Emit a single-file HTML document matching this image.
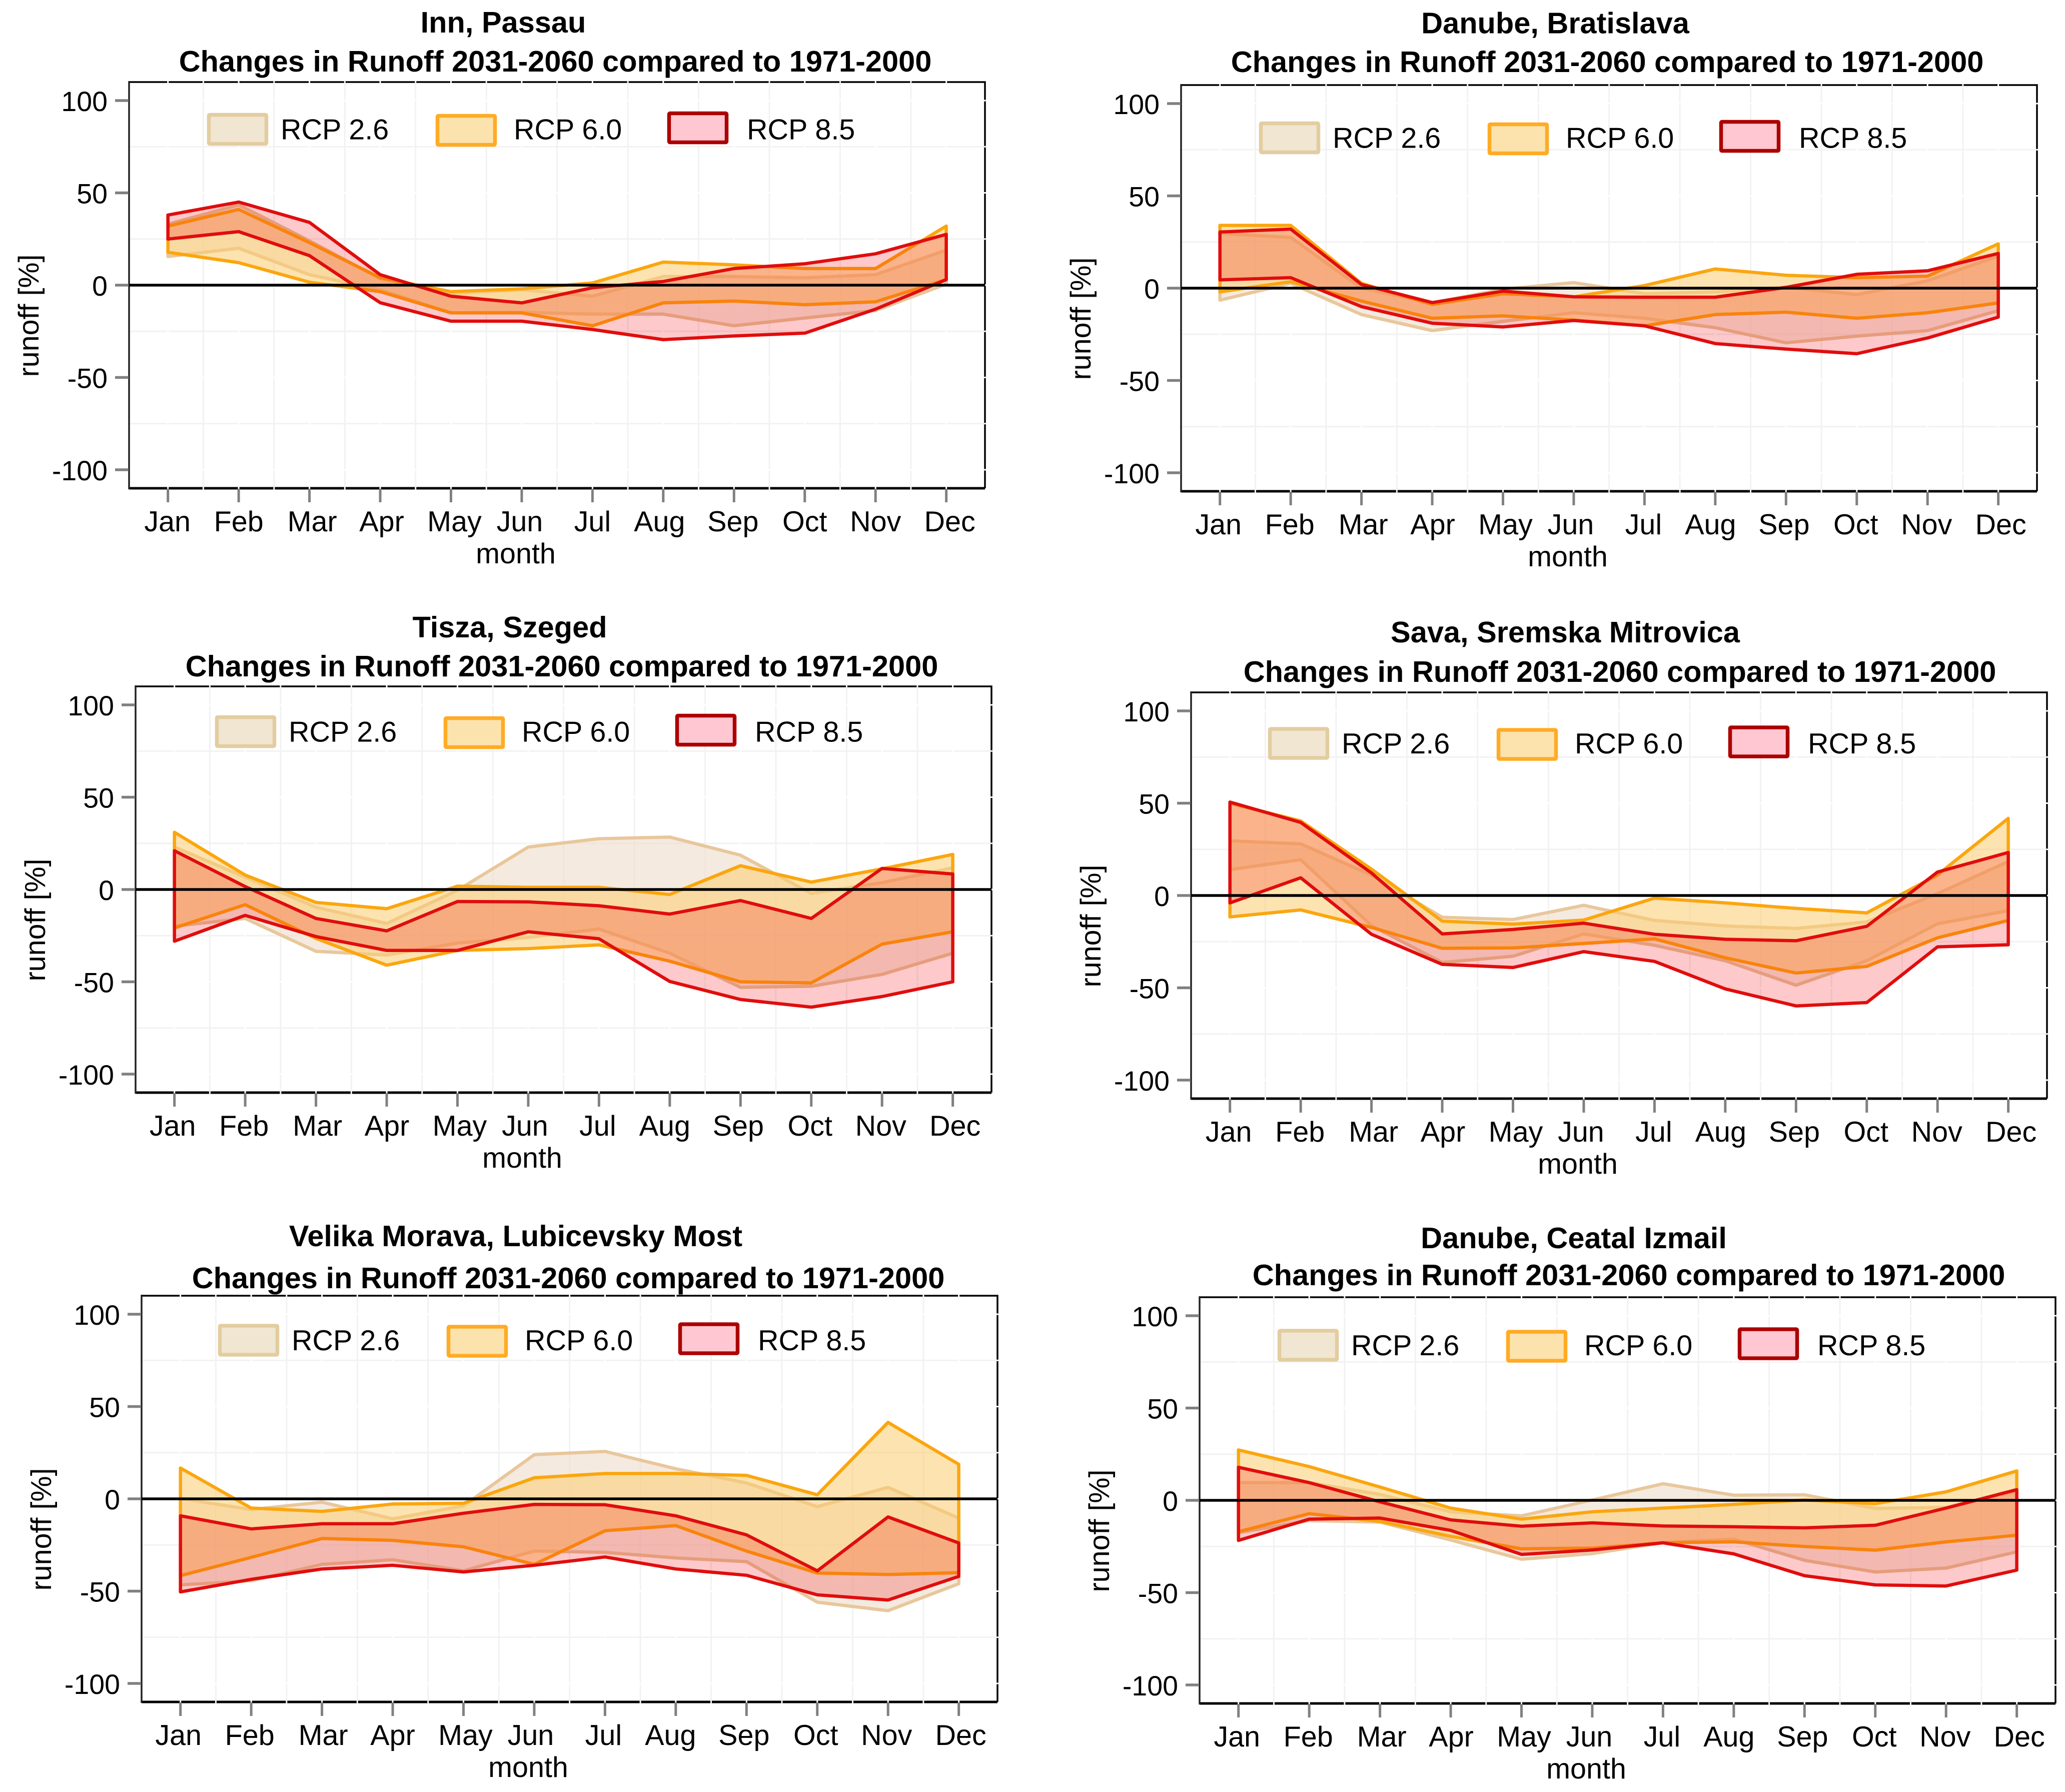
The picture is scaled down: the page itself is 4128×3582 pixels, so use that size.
<!DOCTYPE html>
<html lang="en">
<head>
<meta charset="utf-8">
<title>Changes in Runoff 2031-2060 compared to 1971-2000</title>
<style>
html,body{margin:0;padding:0;background:#fff;}
svg{display:block;font-family:"Liberation Sans",Arial,sans-serif;}
.multiply{mix-blend-mode:multiply;}
</style>
</head>
<body>
<svg id="figure" xmlns="http://www.w3.org/2000/svg" width="4128" height="3582" viewBox="0 0 4128 3582">
<rect x="0" y="0" width="4128" height="3582" fill="#ffffff"/>
</svg>
<script>
const months = ['Jan','Feb','Mar','Apr','May','Jun','Jul','Aug','Sep','Oct','Nov','Dec'];
const yTickLabels = [100, 50, 0, -50, -100];
const yMinorTicks = [75, 25, -25, -75];
const scenarioNames = ['RCP 2.6', 'RCP 6.0', 'RCP 8.5'];
const titleSecondLine = 'Changes in Runoff 2031-2060 compared to 1971-2000';

const innRcp26Upper = [33,43.5,24,3.5,-4.5,-2.5,-6,4.7,4.7,4,5.7,19];
const innRcp26Lower = [15.5,20,5.7,-2.5,-15,-14.7,-15.7,-15.7,-22,-17.8,-13.7,0.6];
const innRcp60Upper = [32,41,23,4,-3.5,-2,1.2,12.5,11,9,9,32];
const innRcp60Lower = [17.8,12.2,1.6,-3.5,-15,-15,-22,-9.6,-8.6,-10.6,-9,3];
const innRcp85Upper = [38,45,34,5.7,-6,-9.6,-1.4,2,9,11.6,17,27.5];
const innRcp85Lower = [25,29,16,-9.5,-19.5,-19.5,-24,-29.5,-27.5,-26,-13,3];

const bratislavaRcp26Upper = [29.6,27.5,0,-8,-0.6,3,-3,-2,0.6,-3.5,4,17.3];
const bratislavaRcp26Lower = [-6.5,2.6,-14.3,-23,-18,-13.3,-16.3,-21.4,-29.6,-26,-23,-12.2];
const bratislavaRcp60Upper = [34,34,2.6,-8.8,-3,-4.7,1.4,10.4,7,5.7,6.5,24];
const bratislavaRcp60Lower = [-2,3.5,-7,-16.3,-15,-17.3,-20.4,-14.3,-13,-16.3,-13.3,-8];
const bratislavaRcp85Upper = [30.4,32,2,-7.8,-1.6,-4.7,-4.9,-4.9,0.4,7.5,9.4,18.8];
const bratislavaRcp85Lower = [4.5,5.7,-10,-19,-21,-17.5,-20.4,-30,-33,-35.5,-27,-15.7];

const szegedRcp26Upper = [23,6.7,-9.6,-18.4,-0.4,23,27.5,28.4,18.6,-2.2,3.7,11.8];
const szegedRcp26Lower = [-19.8,-15.7,-33.5,-35.5,-29,-26,-21.4,-34.5,-53,-52.4,-46,-34.5];
const szegedRcp60Upper = [31,7.8,-7,-10.4,1.8,1.2,1.2,-2.7,12.9,4,11.2,19];
const szegedRcp60Lower = [-20.8,-8.2,-26.5,-41,-33,-32,-30,-38.8,-50,-50.6,-29.6,-22.9];
const szegedRcp85Upper = [21,1.6,-15.7,-22.4,-6.5,-6.7,-8.8,-13.3,-6,-15.7,11.4,8.4];
const szegedRcp85Lower = [-28,-14,-25.5,-33,-33,-22.9,-26.7,-49.8,-59.6,-63.7,-58,-50];

const savaRcp26Upper = [29.6,28,11,-11.8,-13,-5.3,-13.5,-16.5,-17.8,-14.3,1,18.4];
const savaRcp26Lower = [14,19.4,-16.3,-36.3,-32.9,-20.8,-27,-35.3,-48.6,-35.3,-15.3,-8.2];
const savaRcp60Upper = [50,40.4,14.3,-13.9,-15.5,-13.3,-1.4,-4,-7,-9.4,11.2,41.8];
const savaRcp60Lower = [-11.6,-7.8,-17.3,-28.6,-28.4,-26,-23.5,-33.7,-42,-38.4,-22.9,-13.5];
const savaRcp85Upper = [50.6,39.6,12.2,-20.8,-18.4,-15,-21,-23.7,-24.5,-16.7,12.7,23.3];
const savaRcp85Lower = [-4,9.6,-21,-37.3,-39,-30.4,-35.7,-50.6,-59.8,-58,-27.8,-26.7];

const moravaRcp26Upper = [0.2,-5.8,-1.8,-10.8,-3.8,23.9,25.7,16.3,8.6,-4.2,6.2,-10.4];
const moravaRcp26Lower = [-46.6,-44.4,-35.5,-33,-39,-28.3,-29,-32,-34,-56,-60.6,-46];
const moravaRcp60Upper = [16.7,-5,-6.8,-2.8,-2.4,11.4,13.7,13.7,12.7,2.2,41.4,18.7];
const moravaRcp60Lower = [-41.6,-31.7,-21.5,-22.5,-26,-35.5,-17.3,-14.5,-28.3,-40.2,-41,-40];
const moravaRcp85Upper = [-9.2,-16.3,-13.5,-13.5,-7.8,-3,-3.2,-9.2,-19.5,-39,-9.8,-23.9];
const moravaRcp85Lower = [-50.4,-43.6,-38,-36,-39.6,-36,-31.5,-38,-41.4,-52,-54.8,-42];

const izmailRcp26Upper = [9.6,9.6,3.2,-6.2,-8.4,0.2,9,2.8,3,-4.4,-3.8,5];
const izmailRcp26Lower = [-17.5,-11,-11.8,-21.5,-31.9,-28.9,-22.9,-21,-32.5,-38.8,-36.7,-27.9];
const izmailRcp60Upper = [27.3,18.3,7.2,-4.2,-10.2,-6.2,-4.2,-2.2,0.2,-1.8,4.6,15.9];
const izmailRcp60Lower = [-17,-7.2,-11.4,-19.5,-26.3,-25.9,-23,-22.5,-25,-27,-22.5,-18.9];
const izmailRcp85Upper = [17.9,9.6,-0.8,-10.6,-14,-12.2,-13.9,-14.3,-14.9,-13.5,-4.2,5.8];
const izmailRcp85Lower = [-21.7,-10.2,-9.6,-16.3,-29.3,-26.9,-23,-29,-40.8,-45.8,-46.4,-37.8];

// Layout constants (not data)
const PANEL_W = 1711, PANEL_H = 812, ZERO_OFFSET = 406, PX_PER_UNIT = 3.69;
const FIRST_MONTH_OFFSET = 77.7, PX_PER_MONTH = 141.45;
const MONTH_LABEL_NUDGE = [0,1,6.5,4,8,-3,1,-6.5,-1,1,1,8];
const FONT_SIZE = 57.5, Y_TICK_FONT_SIZE = 55.5, TITLE_SIZE = 59.5;
const SVG_NS = 'http://www.w3.org/2000/svg';
const figure = document.getElementById('figure');

const scenarioStyles = [
  {fill:'rgb(238,220,202)', fillOpacity:0.6, stroke:'#e8c79c', legendFill:'#f0e6d2', legendStroke:'#e3cda0', boxX:156, boxY:62, textX:303, multiply:false},
  {fill:'rgb(251,204,111)', fillOpacity:0.55, stroke:'#fba60f', legendFill:'#fce3ae', legendStroke:'#ffab25', boxX:613, boxY:64, textX:769, multiply:false},
  {fill:'rgb(253,201,202)', fillOpacity:1, stroke:'#e00d0d', legendFill:'#ffc7d2', legendStroke:'#ac0000', boxX:1076, boxY:59, textX:1235, multiply:true}
];

const panels = [
  {slug:'inn-passau', station:'Inn, Passau', left:258, top:164, line1:-99, line2:-21, line2Dx:0, legendShift:0, legendDx:0, labelDx:-1,
   upper:[innRcp26Upper,innRcp60Upper,innRcp85Upper], lower:[innRcp26Lower,innRcp60Lower,innRcp85Lower]},
  {slug:'danube-bratislava', station:'Danube, Bratislava', left:2361, top:170, line1:-103.5, line2:-26, line2Dx:0, legendShift:11, legendDx:0, labelDx:-3,
   upper:[bratislavaRcp26Upper,bratislavaRcp60Upper,bratislavaRcp85Upper], lower:[bratislavaRcp26Lower,bratislavaRcp60Lower,bratislavaRcp85Lower]},
  {slug:'tisza-szeged', station:'Tisza, Szeged', left:271, top:1372, line1:-98, line2:-20, line2Dx:0, legendShift:-4, legendDx:3, labelDx:-3.5,
   upper:[szegedRcp26Upper,szegedRcp60Upper,szegedRcp85Upper], lower:[szegedRcp26Lower,szegedRcp60Lower,szegedRcp85Lower]},
  {slug:'sava-sremska-mitrovica', station:'Sava, Sremska Mitrovica', left:2381, top:1384, line1:-100, line2:-21, line2Dx:5, legendShift:7.5, legendDx:-2, labelDx:-2.5,
   upper:[savaRcp26Upper,savaRcp60Upper,savaRcp85Upper], lower:[savaRcp26Lower,savaRcp60Lower,savaRcp85Lower]},
  {slug:'velika-morava', station:'Velika Morava, Lubicevsky Most', left:283, top:2590, line1:-99, line2:-15, line2Dx:1, legendShift:-5.5, legendDx:-3, labelDx:-4,
   upper:[moravaRcp26Upper,moravaRcp60Upper,moravaRcp85Upper], lower:[moravaRcp26Lower,moravaRcp60Lower,moravaRcp85Lower]},
  {slug:'danube-ceatal-izmail', station:'Danube, Ceatal Izmail', left:2398, top:2593, line1:-98, line2:-24, line2Dx:6, legendShift:1.5, legendDx:0, labelDx:-3,
   upper:[izmailRcp26Upper,izmailRcp60Upper,izmailRcp85Upper], lower:[izmailRcp26Lower,izmailRcp60Lower,izmailRcp85Lower]}
];

function make(tag, attrs, parent) {
  const el = document.createElementNS(SVG_NS, tag);
  for (const k in attrs) el.setAttribute(k, attrs[k]);
  parent.appendChild(el);
  return el;
}

function drawPanel(p) {
  const xScale = i => p.left + FIRST_MONTH_OFFSET + i * PX_PER_MONTH;
  const yScale = v => p.top + ZERO_OFFSET - v * PX_PER_UNIT;
  const right = p.left + PANEL_W, bottom = p.top + PANEL_H;

  const g = make('g', {}, figure);
  
  

  // Border (top, right, bottom) sits under the grid so the grid cuts notches in it
  const frame = make('path', {d:`M${p.left} ${p.top}H${right}V${bottom}`, fill:'none', stroke:'#000', 'stroke-width':3.5}, g);
  
  
  const base = make('line', {x1:p.left, x2:right, y1:bottom, y2:bottom, stroke:'#000', 'stroke-width':5}, g);
  
  

  // Minor grid
  yMinorTicks.forEach(v => {
    const l = make('line', {x1:p.left-2, x2:right+3, y1:yScale(v), y2:yScale(v), stroke:'#f2f2f2', 'stroke-width':3}, g);
    
    
  });
  months.forEach((m, i) => {
    if (i === months.length - 1) return;
    const x = xScale(i + 0.5);
    const l = make('line', {x1:x, x2:x, y1:p.top-3, y2:bottom+4, stroke:'#f2f2f2', 'stroke-width':3}, g);
    
    
  });
  // Major grid (white)
  yTickLabels.forEach(v => {
    const l = make('line', {x1:p.left+2, x2:right+3, y1:yScale(v), y2:yScale(v), stroke:'#ffffff', 'stroke-width':3}, g);
    
    
  });
  months.forEach((m, i) => {
    const x = xScale(i);
    const l = make('line', {x1:x, x2:x, y1:p.top-3, y2:bottom+4, stroke:'#ffffff', 'stroke-width':3}, g);
    
    
  });

  const leftAxis = make('line', {x1:p.left, x2:p.left, y1:p.top-2, y2:bottom+2, stroke:'#222', 'stroke-width':3.5}, g);
  
  

  // Legend
  scenarioNames.forEach((name, s) => {
    const st = scenarioStyles[s];
    const box = make('rect', {x:p.left+st.boxX+3.5+p.legendDx, y:p.top+st.boxY+3.5+p.legendShift, width:115, height:58, rx:2,
      fill:st.legendFill, stroke:st.legendStroke, 'stroke-width':7.5}, g);
    
    
    const t = make('text', {x:p.left+st.textX+p.legendDx, y:p.top+114.5+p.legendShift, 'font-size':FONT_SIZE, fill:'#000'}, g);
    
    
    t.textContent = name;
  });

  // Ribbons: fill first, then outline, in scenario order
  scenarioNames.forEach((name, s) => {
    const st = scenarioStyles[s];
    const top = p.upper[s].map((v, i) => `${xScale(i).toFixed(1)},${yScale(v).toFixed(1)}`);
    const low = p.lower[s].map((v, i) => `${xScale(i).toFixed(1)},${yScale(v).toFixed(1)}`).reverse();
    const pts = top.concat(low).join(' ');
    const slug = name.replace(/[ .]/g, '-').toLowerCase();
    const area = make('polygon', {points:pts, fill:st.fill, 'fill-opacity':st.fillOpacity, stroke:'none'}, g);
    if (st.multiply) area.setAttribute('class', 'multiply');
    
    
    const outline = make('polygon', {points:pts, fill:'none', stroke:st.stroke, 'stroke-width':6.5, 'stroke-linejoin':'round'}, g);
    
    
  });

  // Zero line
  const zero = make('line', {x1:p.left, x2:right, y1:yScale(0), y2:yScale(0), stroke:'#000', 'stroke-width':5.5}, g);
  
  

  // Y ticks + labels
  yTickLabels.forEach(v => {
    const tick = make('line', {x1:p.left-28, x2:p.left-1, y1:yScale(v), y2:yScale(v), stroke:'#808080', 'stroke-width':5.5}, g);
    
    
    const t = make('text', {x:p.left-43, y:yScale(v)+21, 'font-size':Y_TICK_FONT_SIZE, 'text-anchor':'end', fill:'#000'}, g);
    
    
    t.textContent = v;
  });

  // X ticks + labels
  months.forEach((m, i) => {
    const tick = make('line', {x1:xScale(i), x2:xScale(i), y1:bottom+1, y2:bottom+28, stroke:'#808080', 'stroke-width':5}, g);
    
    
    const t = make('text', {x:xScale(i)+MONTH_LABEL_NUDGE[i]+p.labelDx, y:bottom+86, 'font-size':FONT_SIZE, 'text-anchor':'middle', fill:'#000'}, g);
    
    
    t.textContent = m;
  });

  // Axis titles
  const xTitle = make('text', {x:p.left+773, y:bottom+150, 'font-size':FONT_SIZE, 'text-anchor':'middle', fill:'#000'}, g);
  
  
  xTitle.textContent = 'month';
  const yx = p.left-181, yy = p.top+467;
  const yTitle = make('text', {x:yx, y:yy, 'font-size':FONT_SIZE, 'text-anchor':'middle', fill:'#000', transform:`rotate(-90 ${yx} ${yy})`}, g);
  
  
  yTitle.textContent = 'runoff [%]';

  // Titles
  const t1 = make('text', {x:p.left+748, y:p.top+p.line1, 'font-size':TITLE_SIZE, 'font-weight':'bold', 'text-anchor':'middle', fill:'#000'}, g);
  
  
  t1.textContent = p.station;
  const t2 = make('text', {x:p.left+852+p.line2Dx, y:p.top+p.line2, 'font-size':TITLE_SIZE, 'font-weight':'bold', 'text-anchor':'middle', fill:'#000'}, g);
  
  
  t2.textContent = titleSecondLine;
}

panels.forEach(drawPanel);
</script>
</body>
</html>
